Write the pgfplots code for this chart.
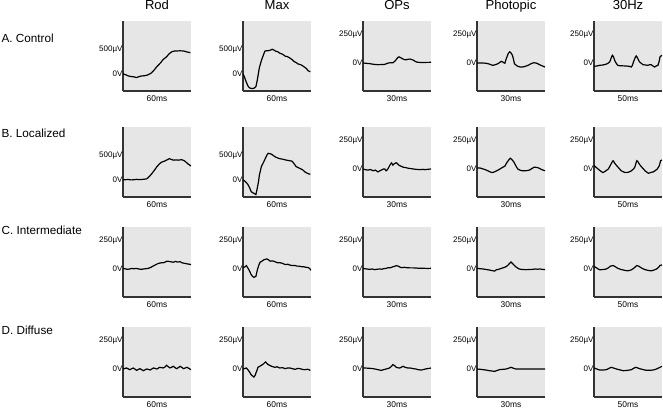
\documentclass[border=0pt]{standalone}
\usepackage{pgfplots}
\pgfplotsset{compat=1.18}
\usepackage{fontspec}
\setmainfont{Liberation Sans}
\definecolor{panelbg}{RGB}{230,230,230}

% one small ERG panel; x runs 0..100 across the trace
\pgfplotsset{
  panel/.style={
    anchor=south west, scale only axis, width=51pt, height=52.5pt,
    xmin=0, xmax=100, enlargelimits=false,
    axis background/.style={fill=panelbg},
    axis x line*=bottom, axis y line*=left,
    axis line style={-, black!80, line width=1pt},
    xtick=\empty, major tick length=0pt,
    yticklabel style={anchor=east, inner sep=0pt, xshift=-0.2pt, font=\fontsize{6}{7}\selectfont},
    xlabel style={at={(axis description cs:0.5,0)}, anchor=center, yshift=-6pt, font=\fontsize{6.3}{7}\selectfont},
  },
  big/.style={ymin=-350, ymax=1075, ytick={0,500}, yticklabels={0V,500µV}},
  small/.style={ymin=-250, ymax=375, ytick={0,250}, yticklabels={0V,250µV}},
  trace/.style={black, line width=0.9pt, no marks},
  strace/.style={black, line width=0.9pt, no marks, smooth, tension=0.4},
}

\begin{document}
\begin{tikzpicture}
\useasboundingbox (0,0) rectangle (497.25pt,306.75pt);

% column titles
\foreach \t/\x in {Rod/117.75, Max/207.75, OPs/297.75, Photopic/383.25, 30Hz/471}
  \node[anchor=base, font=\fontsize{9.8}{11}\selectfont] at (\x pt,299.25pt) {\t};
% row labels
\foreach \t/\y in {A. Control/274.5, B. Localized/203.25, C. Intermediate/130.5, D. Diffuse/55.5}
  \node[anchor=base west, inner sep=0pt, font=\fontsize{8.8}{10}\selectfont] at (1pt,\y pt) {\t};

%% ---------- row A ----------
\begin{axis}[panel, big, at={(92.25pt,238.5pt)}, xlabel={60ms}]
\addplot[trace] coordinates {(0,0)(4,-20)(7,-40)(11,-55)(15,-60)(20,-76)(24,-55)(27,-45)(31,-40)(35,-30)(39,-5)(42,20)(46,80)(50,150)(55,220)(59,290)(64,345)(68,410)(72,450)(76,465)(79,465)(84,468)(89,465)(94,445)(99,430)};
\end{axis}
\begin{axis}[panel, big, at={(182.25pt,238.5pt)}, xlabel={60ms}]
\addplot[trace] coordinates {(0,0)(2,-60)(4,-140)(7,-240)(9,-280)(11,-295)(14,-300)(16,-295)(19,-260)(21,-130)(24,120)(27,270)(30,380)(32,460)(35,470)(37,470)(40,480)(43,500)(46,480)(48,460)(51,450)(54,420)(58,400)(62,360)(65,350)(68,330)(72,290)(75,250)(78,230)(81,200)(85,185)(89,150)(93,110)(96,60)(99,40)};
\end{axis}
\begin{axis}[panel, small, at={(272.25pt,238.5pt)}, xlabel={30ms}]
\addplot[strace] coordinates {(0,0)(5,-3)(10,-6)(16,-12)(22,-15)(27,-14)(32,-12)(35,-5)(37,0)(41,2)(44,2)(48,24)(51,48)(53,55)(56,45)(58,38)(61,30)(63,28)(66,33)(69,35)(72,30)(74,25)(77,14)(79,8)(84,5)(90,5)(100,6)};
\end{axis}
\begin{axis}[panel, small, at={(357.75pt,238.5pt)}, xlabel={30ms}]
\addplot[strace] coordinates {(0,0)(7,0)(14,-3)(19,-12)(23,-21)(27,-15)(31,-6)(34,8)(36,15)(38,8)(40,0)(41,-2)(42,20)(44,54)(46,85)(48,100)(50,90)(52,70)(54,25)(55,-6)(58,-22)(60,-30)(64,-36)(67,-36)(71,-30)(75,-21)(80,-5)(84,3)(88,-3)(92,-15)(96,-26)(100,-36)};
\end{axis}
\begin{axis}[panel, small, at={(445.5pt,238.5pt)}, xlabel={50ms}]
\addplot[strace] coordinates {(0,-30)(4,-27)(8,-21)(13,-18)(17,-12)(20,-5)(23,9)(25,40)(27,69)(29,50)(31,15)(35,-21)(41,-25)(47,-27)(52,-30)(55,-36)(57,-10)(58,9)(60,40)(62,63)(64,45)(67,9)(70,-5)(72,-15)(76,-18)(79,-21)(82,-15)(84,-15)(87,-28)(89,-36)(92,-25)(94,-21)(96,20)(97,54)(100,69)};
\end{axis}

%% ---------- row B ----------
\begin{axis}[panel, big, at={(92.25pt,159pt)}, xlabel={60ms}]
\addplot[trace] coordinates {(0,0)(4,3)(8,5)(12,-2)(15,0)(18,5)(20,10)(23,3)(25,5)(30,10)(35,20)(39,70)(42,120)(46,190)(50,270)(54,330)(57,360)(61,380)(64,400)(68,430)(71,415)(74,400)(78,405)(82,400)(86,410)(89,395)(91,380)(95,330)(100,280)};
\end{axis}
\begin{axis}[panel, big, at={(182.25pt,159pt)}, xlabel={60ms}]
\addplot[trace] coordinates {(0,0)(3,-30)(7,-90)(10,-170)(12,-240)(14,-260)(16,-275)(19,-300)(21,-170)(23,-20)(24,90)(27,270)(30,350)(32,410)(35,500)(37,540)(40,530)(42,520)(45,490)(47,470)(50,450)(54,430)(58,420)(61,410)(64,400)(68,390)(72,380)(75,330)(78,270)(81,250)(84,230)(88,200)(91,160)(95,130)(99,110)};
\end{axis}
\begin{axis}[panel, small, at={(272.25pt,159pt)}, xlabel={30ms}]
\addplot[trace] coordinates {(0,0)(3,-5)(7,-10)(11,-5)(15,-16)(18,-10)(22,-26)(25,-15)(27,-10)(30,0)(32,0)(34,-16)(36,-5)(38,16)(40,40)(42,54)(44,35)(45,42)(47,50)(49,56)(51,45)(53,32)(56,25)(59,16)(63,12)(67,6)(71,3)(74,0)(78,-3)(84,-6)(88,-3)(91,-6)(95,-3)(100,0)};
\end{axis}
\begin{axis}[panel, small, at={(357.75pt,159pt)}, xlabel={30ms}]
\addplot[strace] coordinates {(0,10)(5,8)(9,0)(13,-8)(16,-16)(20,-28)(23,-32)(27,-22)(31,-10)(35,5)(38,16)(41,25)(43,48)(46,75)(49,96)(51,85)(54,64)(57,30)(60,0)(63,-10)(67,-16)(72,-15)(77,-10)(81,5)(84,16)(88,14)(91,8)(95,-5)(100,-16)};
\end{axis}
\begin{axis}[panel, small, at={(445.5pt,159pt)}, xlabel={50ms}]
\addplot[strace] coordinates {(0,32)(3,15)(6,0)(10,-20)(13,-32)(17,-18)(21,0)(24,32)(28,74)(30,55)(33,32)(37,5)(40,-16)(44,-28)(47,-32)(51,-28)(55,-16)(58,0)(60,16)(63,74)(66,50)(68,32)(72,5)(75,-16)(78,-30)(80,-38)(84,-30)(87,-26)(90,-15)(93,0)(96,30)(98,74)(100,80)};
\end{axis}

%% ---------- row C ----------
\begin{axis}[panel, small, at={(92.25pt,84pt)}, xlabel={60ms}]
\addplot[trace] coordinates {(0,5)(3,2)(6,-3)(10,0)(13,5)(16,2)(20,5)(23,0)(27,-3)(30,0)(34,3)(37,5)(41,15)(44,25)(48,38)(52,50)(56,55)(59,55)(62,62)(65,70)(67,68)(70,65)(74,60)(77,68)(80,62)(84,65)(87,55)(91,50)(95,45)(100,40)};
\end{axis}
\begin{axis}[panel, small, at={(182.25pt,84pt)}, xlabel={60ms}]
\addplot[trace] coordinates {(0,10)(3,20)(5,30)(7,10)(9,-10)(12,-50)(14,-65)(16,-75)(19,-65)(21,-10)(23,30)(25,60)(28,70)(30,80)(32,85)(35,90)(38,80)(40,70)(44,72)(47,65)(51,55)(54,57)(58,50)(62,40)(66,42)(69,35)(73,30)(76,32)(79,26)(83,25)(86,20)(89,20)(93,15)(96,12)(98,5)(100,-12)};
\end{axis}
\begin{axis}[panel, small, at={(272.25pt,84pt)}, xlabel={30ms}]
\addplot[trace] coordinates {(0,6)(5,0)(10,-3)(14,0)(17,-6)(21,-2)(25,0)(28,-2)(30,3)(34,5)(37,12)(40,10)(44,20)(47,25)(49,30)(52,25)(55,15)(57,12)(61,15)(64,12)(69,10)(74,10)(79,8)(84,6)(90,6)(95,5)(100,6)};
\end{axis}
\begin{axis}[panel, small, at={(357.75pt,84pt)}, xlabel={30ms}]
\addplot[strace] coordinates {(0,6)(4,3)(9,0)(13,-4)(18,-9)(22,-14)(26,-19)(28,-8)(31,-4)(33,0)(37,8)(41,16)(43,22)(45,31)(48,50)(50,62)(52,50)(55,31)(58,15)(62,0)(66,-4)(72,-6)(76,-5)(82,-3)(86,0)(89,-2)(92,0)(96,-3)(100,-6)};
\end{axis}
\begin{axis}[panel, small, at={(445.5pt,84pt)}, xlabel={50ms}]
\addplot[strace] coordinates {(0,25)(4,8)(8,-6)(13,-5)(18,0)(21,10)(24,25)(28,31)(31,22)(35,6)(39,-3)(43,-9)(47,-14)(50,-16)(54,-10)(57,0)(60,15)(63,31)(66,25)(68,16)(72,2)(77,-9)(81,-14)(84,-16)(88,-10)(92,0)(95,15)(97,31)(100,37)};
\end{axis}

%% ---------- row D ----------
\begin{axis}[panel, small, at={(92.25pt,9pt)}, xlabel={60ms}]
\addplot[trace] coordinates {(0,0)(3,5)(5,9)(8,0)(10,-6)(13,3)(15,9)(18,-3)(20,-12)(23,-3)(25,3)(28,-8)(30,-15)(33,-5)(35,0)(38,-5)(40,-9)(43,3)(45,9)(48,3)(50,0)(52,8)(54,15)(57,12)(59,9)(62,20)(64,33)(67,18)(69,9)(72,18)(74,24)(77,10)(79,3)(82,15)(84,24)(87,12)(89,3)(92,10)(94,15)(97,5)(100,-6)};
\end{axis}
\begin{axis}[panel, small, at={(182.25pt,9pt)}, xlabel={60ms}]
\addplot[trace] coordinates {(0,0)(3,5)(5,9)(7,-5)(9,-21)(12,-51)(14,-62)(16,-72)(18,-55)(19,-36)(21,-5)(22,15)(25,25)(27,33)(30,45)(33,63)(35,50)(37,39)(40,30)(42,24)(45,18)(47,15)(50,20)(54,9)(58,12)(62,3)(65,8)(69,9)(73,2)(77,-3)(80,5)(84,3)(88,-5)(91,-6)(95,-2)(99,-12)};
\end{axis}
\begin{axis}[panel, small, at={(272.25pt,9pt)}, xlabel={30ms}]
\addplot[trace] coordinates {(0,9)(5,8)(10,6)(15,3)(19,-2)(22,-6)(25,-10)(27,-12)(31,-5)(34,0)(37,5)(39,9)(42,25)(44,39)(47,28)(49,15)(52,10)(54,9)(57,18)(59,24)(62,15)(66,9)(70,8)(74,3)(78,0)(81,-6)(84,-8)(86,-9)(90,-3)(94,3)(97,5)(100,9)};
\end{axis}
\begin{axis}[panel, small, at={(357.75pt,9pt)}, xlabel={30ms}]
\addplot[strace] coordinates {(0,0)(5,-3)(9,-6)(14,-10)(18,-15)(22,-18)(26,-21)(30,-12)(33,-6)(38,-3)(43,0)(47,8)(50,15)(53,8)(57,0)(62,0)(67,0)(75,0)(82,0)(90,0)(100,0)};
\end{axis}
\begin{axis}[panel, small, at={(445.5pt,9pt)}, xlabel={50ms}]
\addplot[strace] coordinates {(0,9)(4,0)(8,-9)(13,-9)(18,-6)(22,5)(25,15)(28,10)(33,0)(38,-8)(43,-15)(49,-12)(55,-6)(58,5)(61,15)(64,10)(67,3)(72,-5)(77,-12)(82,-12)(87,-9)(91,-2)(94,6)(97,15)(100,24)};
\end{axis}
\end{tikzpicture}
\end{document}
